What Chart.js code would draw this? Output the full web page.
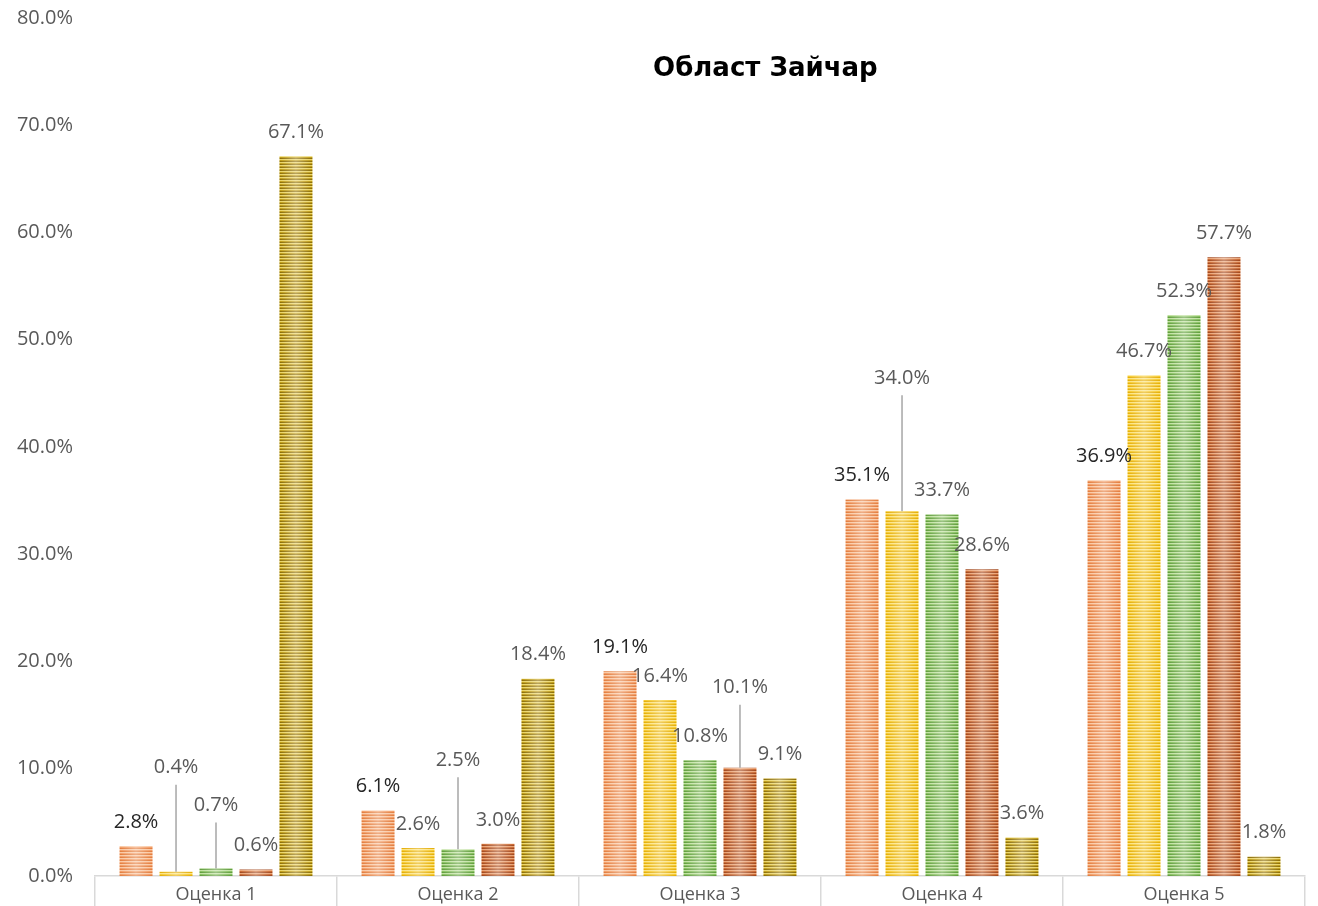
<!DOCTYPE html>
<html>
<head>
<meta charset="utf-8">
<script src="https://cdn.jsdelivr.net/npm/chart.js@4/dist/chart.umd.min.js"></script>
<style>
  html, body { margin: 0; padding: 0; background: #fff; }
</style>
</head>
<body>
<canvas id="ZajcharChart" width="1318" height="906"></canvas>
<script>
// Област Зайчар - оценке

const categories = ['Оценка 1', 'Оценка 2', 'Оценка 3', 'Оценка 4', 'Оценка 5'];

const values1 = [2.8, 6.1, 19.1, 35.1, 36.9];
const values2 = [0.4, 2.6, 16.4, 34.0, 46.7];
const values3 = [0.7, 2.5, 10.8, 33.7, 52.3];
const values4 = [0.6, 3.0, 10.1, 28.6, 57.7];
const values5 = [67.1, 18.4, 9.1, 3.6, 1.8];

const yTicks = [0, 10, 20, 30, 40, 50, 60, 70, 80];

const chartTitle = 'Област Зайчар';

// labels that sit higher with a leader line: "dataset-index": px above bar top
const leaderLabels = { '1-0': 104, '2-0': 63, '2-1': 89, '3-2': 80, '1-3': 133 };

// striped fill like the original
function stripes(light, base, dark) {
  const c = document.createElement('canvas');
  c.width = 4;
  c.height = 3;
  const g = c.getContext('2d');
  g.fillStyle = light; g.fillRect(0, 0, 4, 1);
  g.fillStyle = base;  g.fillRect(0, 1, 4, 1);
  g.fillStyle = dark;  g.fillRect(0, 2, 4, 1);
  return g.createPattern(c, 'repeat');
}

const fills = [
  stripes('#f9c7a2', '#f29a62', '#e27c3c'),
  stripes('#fbe27e', '#f6c92a', '#e4ad05'),
  stripes('#bfe09f', '#84bf5c', '#5f9c3a'),
  stripes('#eaa274', '#c9672f', '#a2461a'),
  stripes('#ead466', '#bf9c14', '#8c6d02')
];

const seriesList = [values1, values2, values3, values4, values5];

const dataZajchar = {
  labels: categories,
  datasets: seriesList.map((vals, i) => ({
    label: 'Серија ' + (i + 1),
    data: vals,
    backgroundColor: fills[i],
    borderWidth: 0,
    categoryPercentage: 0.826,
    barPercentage: 0.825
  }))
};

// soft highlight in the middle of each bar
const barShine = {
  id: 'barShine',
  afterDatasetsDraw(chart) {
    const ctx = chart.ctx;
    chart.data.datasets.forEach((ds, di) => {
      chart.getDatasetMeta(di).data.forEach(bar => {
        const left = bar.x - bar.width / 2;
        const gr = ctx.createLinearGradient(left, 0, left + bar.width, 0);
        gr.addColorStop(0, 'rgba(255,255,255,0)');
        gr.addColorStop(0.5, 'rgba(255,255,255,0.38)');
        gr.addColorStop(1, 'rgba(255,255,255,0)');
        ctx.fillStyle = gr;
        ctx.fillRect(left, bar.y, bar.width, bar.base - bar.y);
      });
    });
  }
};

const valueLabels = {
  id: 'valueLabels',
  afterDatasetsDraw(chart) {
    const ctx = chart.ctx;
    ctx.save();
    ctx.font = '20px "Open Sans"';
    ctx.textAlign = 'center';
    ctx.textBaseline = 'middle';
    chart.data.datasets.forEach((ds, di) => {
      chart.getDatasetMeta(di).data.forEach((bar, i) => {
        const key = di + '-' + i;
        let y = bar.y - 24;
        if (leaderLabels[key]) {
          y = bar.y - leaderLabels[key];
          ctx.strokeStyle = '#a6a6a6';
          ctx.lineWidth = 1.5;
          ctx.beginPath();
          ctx.moveTo(bar.x, y + 17);
          ctx.lineTo(bar.x, bar.y);
          ctx.stroke();
        }
        ctx.fillStyle = di === 0 ? '#262626' : '#595959';
        ctx.fillText(ds.data[i].toFixed(1) + '%', bar.x, y);
      });
    });
    ctx.restore();
  }
};

const titleInside = {
  id: 'titleInside',
  afterDraw(chart) {
    const ctx = chart.ctx;
    const a = chart.chartArea;
    ctx.save();
    ctx.font = 'bold 26px "DejaVu Sans"';
    ctx.fillStyle = '#000';
    ctx.textAlign = 'center';
    ctx.textBaseline = 'middle';
    ctx.fillText(chartTitle, a.left + (a.right - a.left) * 0.554, chart.scales.y.getPixelForValue(75.2));
    ctx.restore();
  }
};

const configZajchar = {
  type: 'bar',
  data: dataZajchar,
  options: {
    responsive: false,
    animation: false,
    layout: { padding: { top: 18, right: 13, left: 0, bottom: 0 } },
    plugins: {
      legend: { display: false },
      tooltip: { enabled: false }
    },
    scales: {
      x: {
        grid: {
          display: true,
          drawOnChartArea: false,
          tickLength: 30,
          color: '#d9d9d9',
          lineWidth: 1.5
        },
        border: { color: '#d9d9d9', width: 1.5 },
        ticks: {
          color: '#595959',
          font: { family: 'Open Sans', size: 18 },
          padding: -22
        },
        afterFit: s => {
          s.height = 30;
          s.paddingLeft = 0;
          s.paddingRight = 0;
        }
      },
      y: {
        min: 0,
        max: 80,
        afterBuildTicks: s => { s.ticks = yTicks.map(v => ({ value: v })); },
        grid: { display: false },
        border: { display: false },
        ticks: {
          color: '#595959',
          font: { family: 'Open Sans', size: 20 },
          padding: 14,
          callback: v => v.toFixed(1) + '%'
        },
        afterFit: s => {
          s.width = 95;
          s.paddingTop = 0;
          s.paddingBottom = 0;
        }
      }
    }
  },
  plugins: [barShine, valueLabels, titleInside]
};

const Zajchar_Chart = new Chart(
  document.getElementById('ZajcharChart'),
  configZajchar
);
</script>
</body>
</html>
